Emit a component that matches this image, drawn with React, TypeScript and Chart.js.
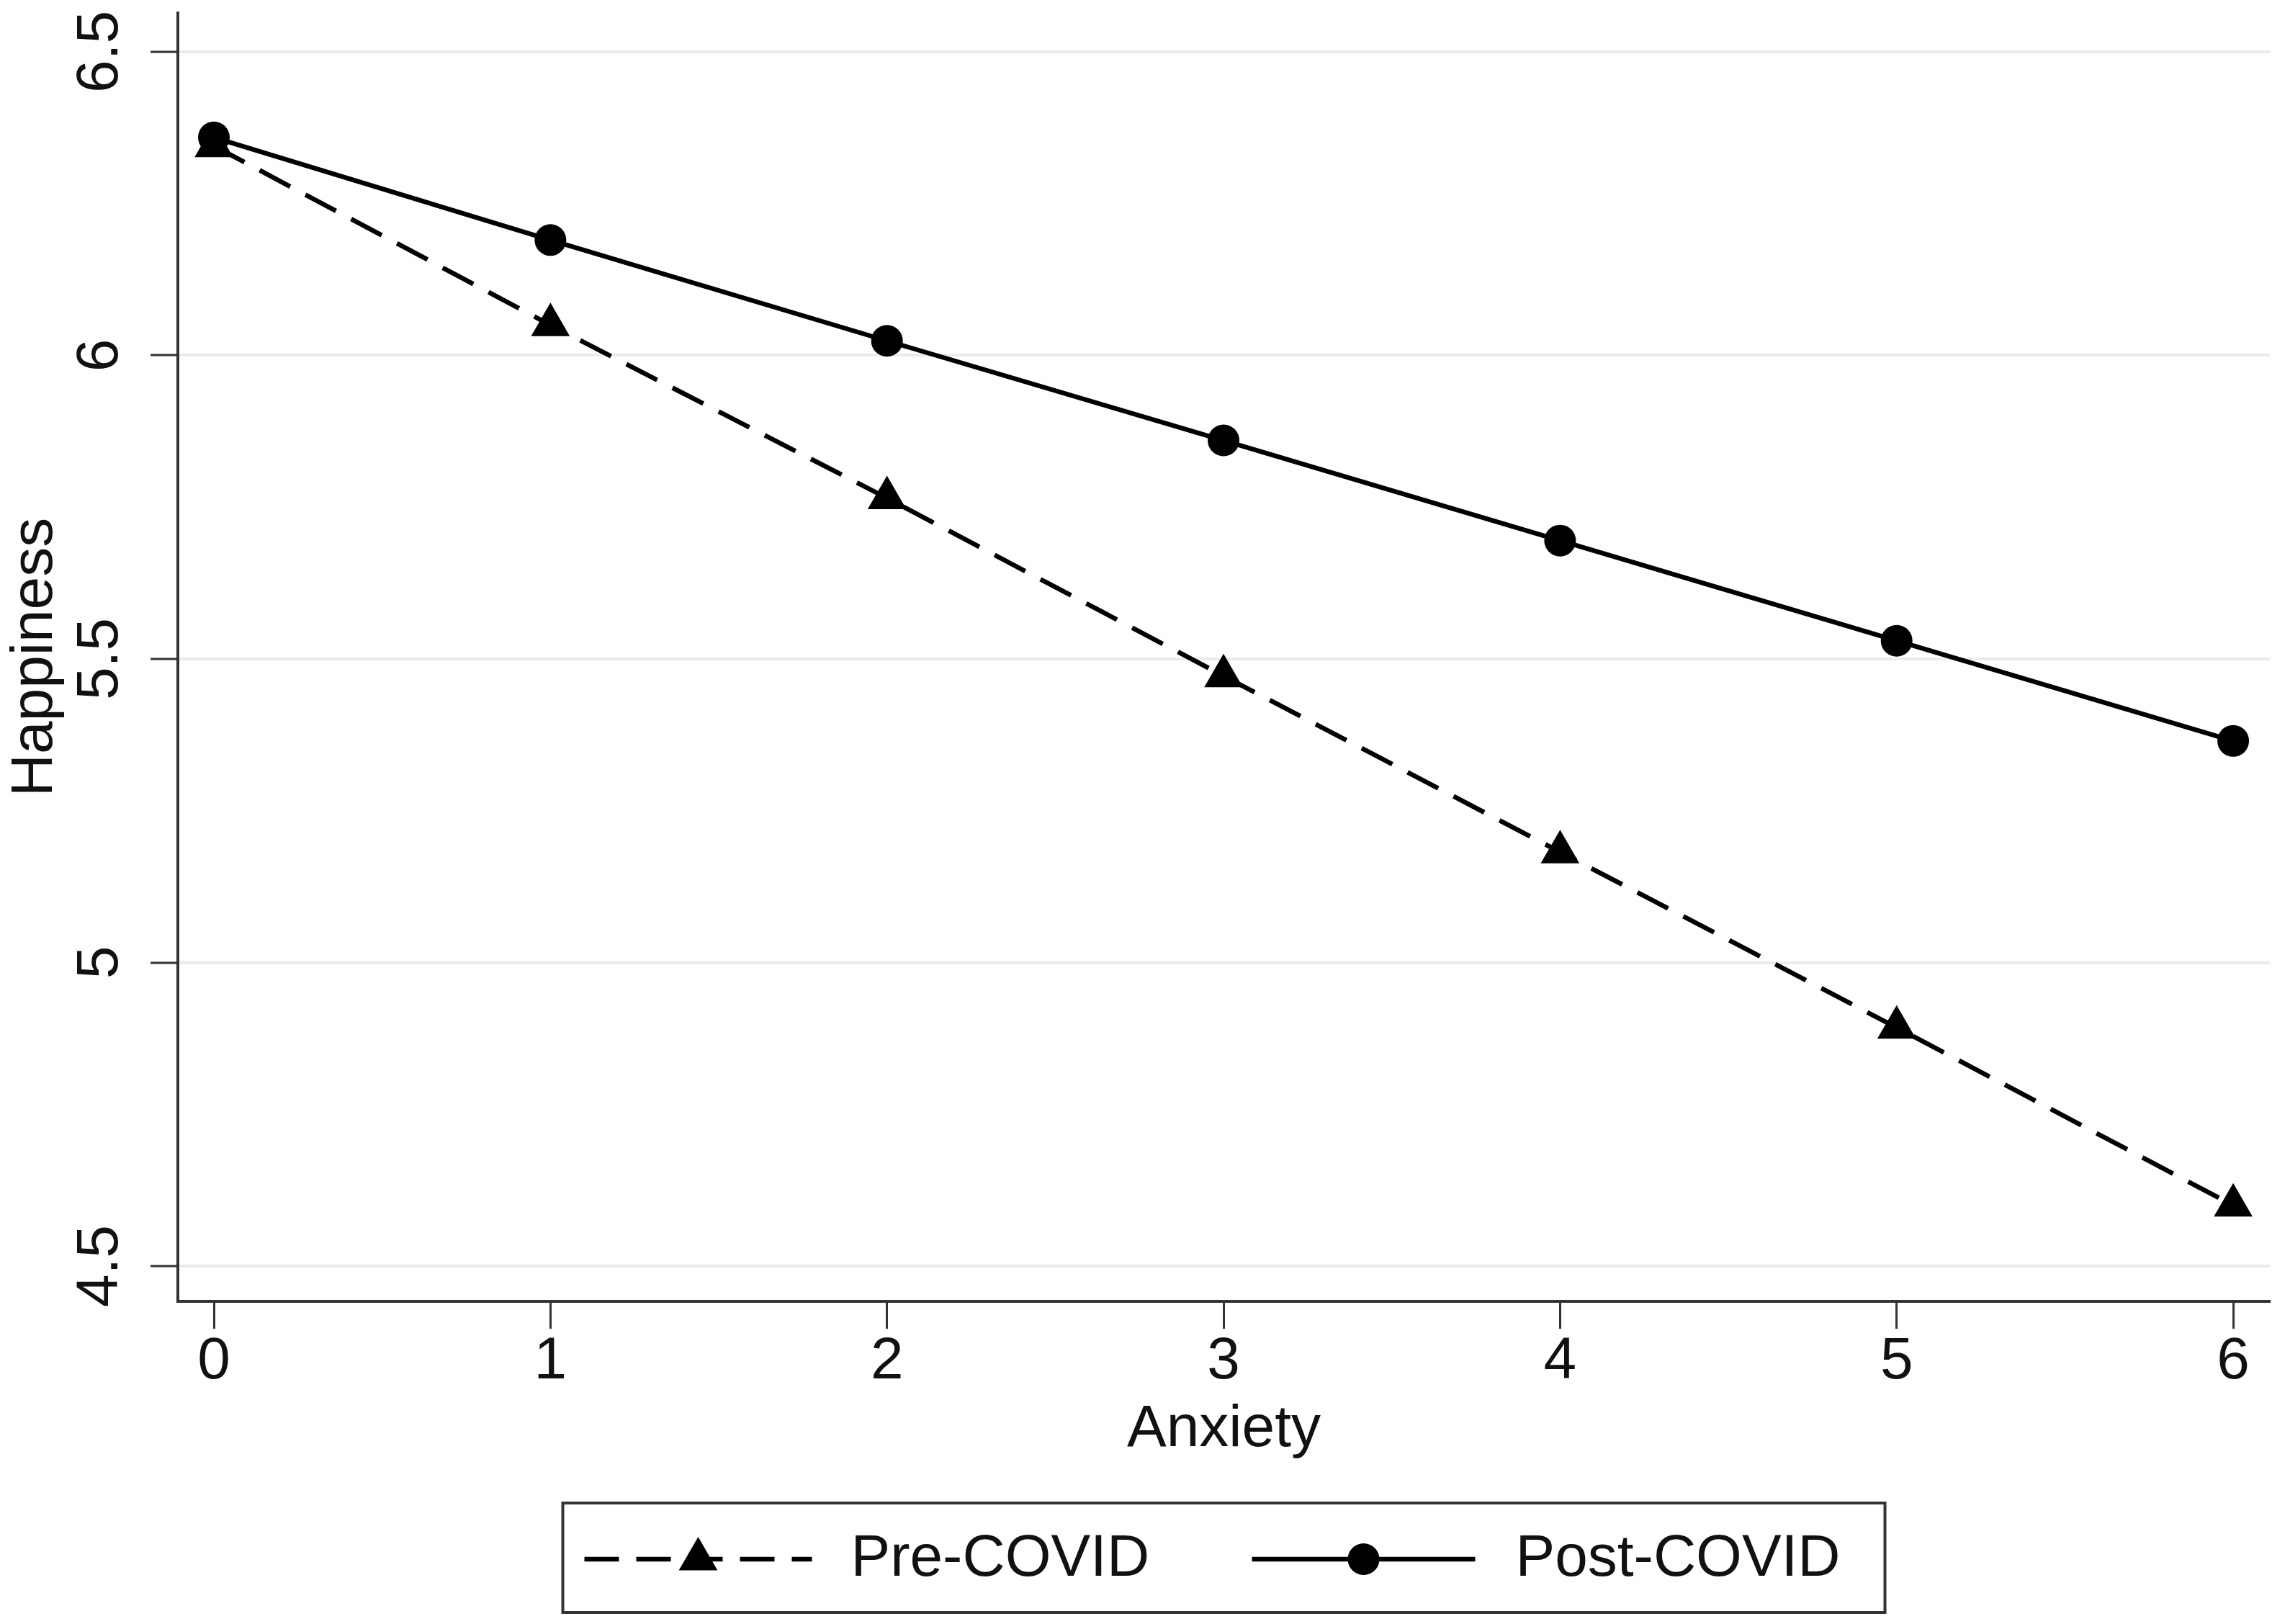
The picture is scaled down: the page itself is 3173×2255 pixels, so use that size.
import React, { useEffect, useRef } from "react";
import { Chart, registerables } from "chart.js";

Chart.register(...registerables);

// ---- data ----
const ANXIETY = [0, 1, 2, 3, 4, 5, 6];
const PRE_COVID = [6.345, 6.05, 5.765, 5.472, 5.182, 4.893, 4.6];
const POST_COVID = [6.359, 6.19, 6.024, 5.86, 5.695, 5.53, 5.365];
const X_TICKS = [0, 1, 2, 3, 4, 5, 6];
const Y_TICKS = [4.5, 5, 5.5, 6, 6.5];
const SERIES_LABELS = ["Pre-COVID", "Post-COVID"];
const X_TITLE = "Anxiety";
const Y_TITLE = "Happiness";

// ---- style ----
const W = 3173;
const H = 2255;
const FONT = '"Liberation Sans", Arial, Helvetica, sans-serif';
const FONT_SIZE = 82;
const AXIS_COLOR = "#333333";
const TEXT_COLOR = "#111111";
const LINE_COLOR = "#000000";

function drawMarker(ctx: CanvasRenderingContext2D, style: string, x: number, y: number, r: number) {
  ctx.beginPath();
  if (style === "triangle") {
    let rad = 0;
    const step = (2 * Math.PI) / 3;
    ctx.moveTo(x + Math.sin(rad) * r, y - Math.cos(rad) * r);
    rad += step;
    ctx.lineTo(x + Math.sin(rad) * r, y - Math.cos(rad) * r);
    rad += step;
    ctx.lineTo(x + Math.sin(rad) * r, y - Math.cos(rad) * r);
    ctx.closePath();
  } else {
    ctx.arc(x, y, r, 0, Math.PI * 2);
  }
  ctx.fill();
}

const boxLegend = {
  id: "boxLegend",
  afterDraw(chart: any) {
    const ctx: CanvasRenderingContext2D = chart.ctx;
    const ca = chart.chartArea;
    const boxW = 1836;
    const boxH = 152;
    const bx = (ca.left + ca.right) / 2 - boxW / 2;
    const by = 2087;
    ctx.save();
    ctx.fillStyle = "#ffffff";
    ctx.fillRect(bx, by, boxW, boxH);
    ctx.strokeStyle = AXIS_COLOR;
    ctx.lineWidth = 4;
    ctx.strokeRect(bx, by, boxW, boxH);
    const cy = by + boxH / 2 + 2;
    const layout = [
      { sx: bx + 30, sw: 316, tx: bx + 400 },
      { sx: bx + 957, sw: 310, tx: bx + 1323 },
    ];
    chart.data.datasets.forEach((ds: any, i: number) => {
      const L = layout[i];
      ctx.save();
      ctx.strokeStyle = ds.borderColor;
      ctx.lineWidth = ds.borderWidth;
      ctx.lineCap = "butt";
      ctx.setLineDash(ds.borderDash || []);
      ctx.beginPath();
      ctx.moveTo(L.sx, cy);
      ctx.lineTo(L.sx + L.sw, cy);
      ctx.stroke();
      ctx.restore();
      ctx.fillStyle = ds.pointBackgroundColor;
      drawMarker(ctx, ds.pointStyle, L.sx + L.sw / 2, cy, ds.pointRadius);
      ctx.fillStyle = TEXT_COLOR;
      ctx.font = `${FONT_SIZE}px ${FONT}`;
      ctx.textBaseline = "middle";
      ctx.textAlign = "left";
      ctx.fillText(ds.label, L.tx, cy);
    });
    ctx.restore();
  },
};

export default function App() {
  const canvasRef = useRef<HTMLCanvasElement | null>(null);

  useEffect(() => {
    const canvas = canvasRef.current;
    if (!canvas) return;
    const tickFont = { size: FONT_SIZE, family: FONT };
    const chart = new Chart(canvas, {
      type: "line",
      data: {
        datasets: [
          {
            label: SERIES_LABELS[0],
            data: ANXIETY.map((x, i) => ({ x, y: PRE_COVID[i] })),
            borderColor: LINE_COLOR,
            borderWidth: 6.5,
            borderDash: [48, 24],
            pointStyle: "triangle",
            pointRadius: 31,
            pointBackgroundColor: LINE_COLOR,
            pointBorderColor: LINE_COLOR,
            pointBorderWidth: 0,
            tension: 0,
            fill: false,
            order: 1,
          },
          {
            label: SERIES_LABELS[1],
            data: ANXIETY.map((x, i) => ({ x, y: POST_COVID[i] })),
            borderColor: LINE_COLOR,
            borderWidth: 6.5,
            pointStyle: "circle",
            pointRadius: 22,
            pointBackgroundColor: LINE_COLOR,
            pointBorderColor: LINE_COLOR,
            pointBorderWidth: 0,
            tension: 0,
            fill: false,
            order: 0,
          },
        ],
      },
      options: {
        animation: false,
        responsive: false,
        devicePixelRatio: 1,
        layout: { autoPadding: false, padding: { left: 0, top: 18, right: 21, bottom: 198 } },
        plugins: {
          legend: { display: false },
          tooltip: { enabled: false },
        },
        scales: {
          x: {
            type: "linear",
            min: -0.107,
            max: 6.109,
            afterBuildTicks: (s: any) => {
              s.ticks = X_TICKS.map((v) => ({ value: v }));
            },
            afterFit: (s: any) => {
              s.height = 250;
              s.paddingLeft = 0;
              s.paddingRight = 0;
              s.paddingTop = 0;
              s.paddingBottom = 0;
            },
            grid: {
              drawOnChartArea: false,
              drawTicks: true,
              tickLength: 38,
              tickColor: AXIS_COLOR,
              tickWidth: 3,
            },
            border: { display: true, color: AXIS_COLOR, width: 4 },
            ticks: {
              color: TEXT_COLOR,
              font: tickFont,
              padding: -3,
              minRotation: 0,
              maxRotation: 0,
              autoSkip: false,
              callback: (v: any) => String(v),
            },
            title: {
              display: true,
              text: X_TITLE,
              color: TEXT_COLOR,
              font: tickFont,
              padding: { top: 0, bottom: 22 },
            },
          },
          y: {
            type: "linear",
            min: 4.442,
            max: 6.564,
            afterBuildTicks: (s: any) => {
              s.ticks = Y_TICKS.map((v) => ({ value: v }));
            },
            afterFit: (s: any) => {
              s.width = 247;
              s.paddingLeft = 0;
              s.paddingRight = 0;
              s.paddingTop = 0;
              s.paddingBottom = 0;
            },
            grid: {
              color: "#ebebeb",
              lineWidth: 4,
              drawTicks: true,
              tickLength: 38,
              tickColor: AXIS_COLOR,
              tickWidth: 3,
            },
            border: { display: true, color: AXIS_COLOR, width: 4 },
            ticks: {
              color: TEXT_COLOR,
              font: tickFont,
              padding: 12,
              minRotation: 90,
              maxRotation: 90,
              crossAlign: "center",
              autoSkip: false,
              callback: (v: any) => String(v),
            },
            title: {
              display: true,
              text: Y_TITLE,
              color: TEXT_COLOR,
              font: tickFont,
              padding: { top: 0, bottom: 0 },
            },
          },
        },
      },
      plugins: [boxLegend],
    } as any);
    return () => chart.destroy();
  }, []);

  return (
    <div style={{ position: "fixed", left: 0, top: 0, width: W, height: H, background: "#ffffff" }}>
      <canvas ref={canvasRef} width={W} height={H} style={{ width: W, height: H, display: "block" }} />
    </div>
  );
}
